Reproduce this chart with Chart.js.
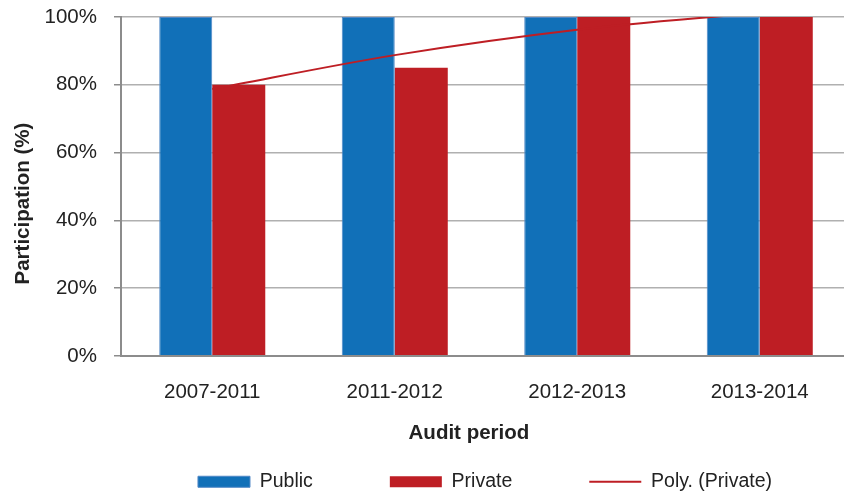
<!DOCTYPE html>
<html><head><meta charset="utf-8">
<script src="https://cdn.jsdelivr.net/npm/chart.js@4"></script>
<style>
html,body{margin:0;padding:0;overflow:hidden;background:#fff}
#wrap{width:851px;height:495px;position:relative}
</style>
</head><body><div id="wrap"><canvas id="c"></canvas></div>
<script>
const categories = ['2007-2011', '2011-2012', '2012-2013', '2013-2014'];
const publicValues = [100, 100, 100, 100];
const privateValues = [80, 85, 100, 100];
const polyPrivateValues = [78.75, 88.75, 96.25, 101.25];
const yMin = 0, yMax = 100, yStep = 20;

const FONT = "'Liberation Sans', Arial, sans-serif";
const TEXT = '#222222';
const AXIS = '#8c8c8c';
const GRID = '#b0b0b0';
const BLUE = '#1170b8';
const RED = '#be1e24';

const legendPlace = {
  id: 'legendPlace',
  afterLayout(chart) {
    const lg = chart.legend, ca = chart.chartArea;
    lg.left = ca.left - 2;
    lg.right = ca.right;
    lg.top = ca.bottom + 39;
  }
};

new Chart(document.getElementById('c'), {
  data: {
    labels: categories,
    datasets: [
      { type: 'bar', label: 'Public', data: publicValues, backgroundColor: BLUE,
        borderColor: '#4f87c6', borderWidth: 1, pointStyle: 'rect', order: 1,
        categoryPercentage: 0.581, barPercentage: 1 },
      { type: 'bar', label: 'Private', data: privateValues, backgroundColor: RED,
        borderColor: RED, borderWidth: 0, pointStyle: 'rect', order: 1,
        categoryPercentage: 0.581, barPercentage: 1 },
      { type: 'line', label: 'Poly. (Private)', data: polyPrivateValues, borderColor: RED,
        backgroundColor: RED, borderWidth: 2, pointRadius: 0, pointStyle: 'line',
        tension: 0.33, fill: false, clip: 0, order: 0 }
    ]
  },
  options: {
    responsive: true,
    maintainAspectRatio: false,
    animation: false,
    events: [],
    layout: { padding: { top: 17, left: 11, right: 0, bottom: 0 } },
    plugins: {
      tooltip: { enabled: false },
      legend: {
        position: 'bottom',
        maxHeight: 35,
        labels: {
          usePointStyle: true,
          pointStyleWidth: 52,
          boxHeight: 11,
          padding: 77,
          color: TEXT,
          font: { family: FONT, size: 19.5 },
          sort: (a, b) => a.datasetIndex - b.datasetIndex
        }
      }
    },
    scales: {
      x: {
        type: 'category',
        grid: { display: false, drawTicks: false },
        border: { display: true, color: AXIS, width: 2, z: 1 },
        ticks: { color: TEXT, font: { family: FONT, size: 20.5 }, padding: 24, maxRotation: 0 },
        title: { display: true, text: 'Audit period      ', color: TEXT,
                 font: { family: FONT, size: 20.5, weight: 'bold' }, padding: { top: 0, bottom: 14 } },
        afterFit(scale) { scale.height = 104; }
      },
      y: {
        min: yMin, max: yMax,
        grid: { color: GRID, lineWidth: 1.5, drawTicks: true, tickLength: 7, tickColor: AXIS, tickWidth: 1.5 },
        border: { display: true, color: AXIS, width: 2 },
        ticks: { stepSize: yStep, color: TEXT, font: { family: FONT, size: 20.5 }, padding: 17,
                 callback: v => v + '%' },
        title: { display: true, text: 'Participation (%)      ', color: TEXT,
                 font: { family: FONT, size: 20.5, weight: 'bold' }, padding: { top: 0, bottom: 0 } },
        afterFit(scale) { scale.width = 110; scale.paddingTop = 0; scale.paddingBottom = 0; }
      }
    }
  },
  plugins: [legendPlace]
});
</script>
</body></html>
